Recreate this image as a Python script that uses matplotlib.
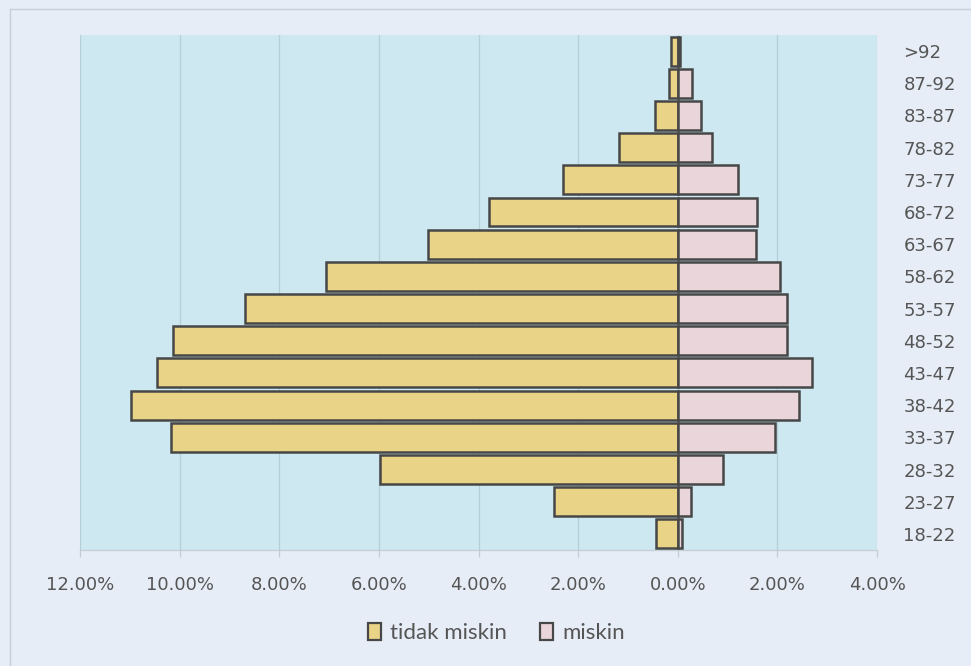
import matplotlib.pyplot as plt
from matplotlib.patches import Patch
from matplotlib.ticker import FuncFormatter

# age groups, bottom to top
age_groups = ['18-22', '23-27', '28-32', '33-37', '38-42', '43-47', '48-52', '53-57',
              '58-62', '63-67', '68-72', '73-77', '78-82', '83-87', '87-92', '>92']
# percent of population
tidak_miskin = [0.43, 2.48, 5.97, 10.17, 10.98, 10.45, 10.13, 8.69,
                7.07, 5.01, 3.79, 2.30, 1.18, 0.45, 0.17, 0.14]
miskin = [0.08, 0.26, 0.90, 1.95, 2.44, 2.69, 2.20, 2.20,
          2.05, 1.58, 1.60, 1.20, 0.68, 0.47, 0.28, 0.05]
x_ticks = [-12, -10, -8, -6, -4, -2, 0, 2, 4]

bg = '#e7edf7'
plot_bg = '#cde8f1'
yellow = '#e9d386'
pink = '#ead5da'
edge = '#474747'
text_col = '#555555'

fig = plt.figure(figsize=(9.71, 6.66), dpi=100, facecolor=bg)
ax = fig.add_axes([0.0824, 0.1742, 0.8208, 0.7733])
ax.set_facecolor(plot_bg)

ypos = list(range(len(age_groups)))
ax.barh(ypos, [-v for v in tidak_miskin], height=0.9, color=yellow,
        edgecolor=edge, linewidth=1.8, zorder=3)
ax.barh(ypos, miskin, height=0.9, color=pink,
        edgecolor=edge, linewidth=1.8, zorder=3)

ax.set_xlim(-12, 4)
ax.set_ylim(-0.5, len(age_groups) - 0.5)
ax.set_xticks(x_ticks)
ax.xaxis.set_major_formatter(FuncFormatter(lambda v, p: '%.2f%%' % abs(v)))
ax.grid(axis='x', color='#b5cfd9', linewidth=0.9, zorder=0)

ax.set_yticks(ypos)
ax.set_yticklabels(age_groups)
ax.yaxis.tick_right()
ax.tick_params(axis='y', length=0, pad=19, labelsize=13, labelcolor=text_col)
ax.tick_params(axis='x', length=5, width=0.9, color='#c4ccd4', pad=14,
               labelsize=13, labelcolor=text_col)

for side in ['top', 'left', 'right']:
    ax.spines[side].set_visible(False)
ax.spines['bottom'].set_color('#c4ccd4')
ax.spines['bottom'].set_linewidth(0.9)

handles = [Patch(facecolor=yellow, edgecolor=edge, linewidth=1.6, label='tidak miskin'),
           Patch(facecolor=pink, edgecolor=edge, linewidth=1.6, label='miskin')]
fig.legend(handles=handles, loc='center', bbox_to_anchor=(0.511, 0.049), ncol=2,
           frameon=False, handlelength=0.6, handleheight=0.8, handletextpad=0.4,
           columnspacing=1.5, prop={'family': 'Lato', 'size': 16},
           labelcolor=text_col)

# faint outer frame of the chart area
fig.add_artist(plt.Line2D([10 / 971, 10 / 971], [1 - 9 / 666, 0], color='#c8ced8',
                          linewidth=1.0, transform=fig.transFigure))
fig.add_artist(plt.Line2D([10 / 971, 1], [1 - 9 / 666, 1 - 9 / 666], color='#c8ced8',
                          linewidth=1.0, transform=fig.transFigure))

fig.savefig('out.png', dpi=100, facecolor=bg)
